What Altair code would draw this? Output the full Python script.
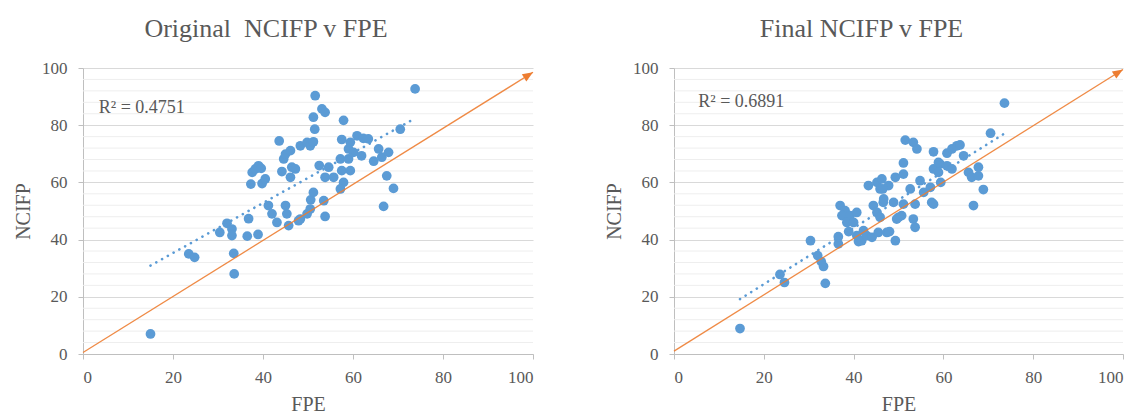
import altair as alt
import pandas as pd

# ---- data ----
orig_fpe = [15.0, 23.5, 24.8, 30.4, 32.0, 33.1, 33.1, 33.5, 33.6, 36.8, 36.5, 38.9,
            37.3, 37.6, 38.3, 39.0, 39.6, 39.8, 40.5, 41.2, 42.0, 43.1, 43.6, 44.2,
            44.6, 45.0, 46.1, 46.1, 46.4, 47.2, 45.0, 45.3, 45.7, 47.9, 48.3, 48.3,
            49.8, 50.5, 51.2, 49.8, 50.5, 50.6, 51.2, 51.6, 51.2, 51.5, 53.1, 53.8,
            52.5, 54.6, 53.5, 53.8, 53.8, 55.7, 57.9, 57.5, 57.2, 59.0, 57.5, 59.4,
            57.9, 57.2, 59.0, 60.1, 61.9, 59.4, 60.9, 62.3, 63.4, 64.6, 65.7, 66.4,
            67.9, 67.5, 69.0, 66.8, 70.5, 73.8]
orig_ncifp = [7.0, 35.0, 33.8, 42.5, 45.7, 43.7, 41.4, 35.2, 28.0, 47.3, 41.2, 41.8,
              59.4, 63.5, 64.7, 65.8, 64.9, 59.6, 61.2, 51.9, 49.0, 46.0, 74.5, 63.8,
              68.2, 69.9, 71.1, 61.8, 65.3, 64.7, 51.9, 49.0, 44.9, 46.6, 47.2, 72.8,
              74.0, 72.8, 74.2, 49.0, 50.7, 53.9, 56.5, 90.3, 82.8, 78.6, 85.7, 84.5,
              65.9, 65.3, 53.6, 48.1, 61.8, 61.8, 81.7, 75.0, 68.2, 68.2, 64.1, 64.1,
              60.0, 57.7, 71.7, 70.5, 69.3, 74.0, 76.3, 75.4, 75.2, 67.4, 71.7, 68.8,
              70.5, 62.3, 57.9, 51.6, 78.6, 92.7]

final_fpe = [14.7, 23.6, 24.6, 30.4, 32.0, 32.8, 33.3, 33.7, 36.6, 36.6, 37.0, 38.1,
             37.4, 39.2, 40.7, 38.5, 40.0, 38.9, 40.7, 41.1, 41.8, 42.2, 42.9, 44.1,
             45.5, 47.4, 49.3, 43.3, 45.2, 46.3, 45.9, 44.4, 45.2, 45.9, 46.6, 46.7,
             47.8, 46.5, 48.0, 49.6, 50.7, 50.0, 53.3, 53.7, 49.3, 51.1, 51.1, 51.5,
             53.3, 54.1, 52.6, 53.7, 51.1, 48.9, 54.8, 55.6, 57.1, 57.4, 57.8, 57.8,
             57.8, 59.3, 60.8, 61.9, 58.9, 58.9, 59.4, 60.8, 61.9, 63.0, 63.7, 64.5,
             65.6, 66.3, 67.8, 67.8, 68.9, 66.7, 70.5, 73.6]
final_ncifp = [8.9, 27.8, 25.0, 39.6, 34.4, 32.3, 30.6, 24.7, 41.0, 38.5, 51.9, 50.1,
               48.4, 48.4, 49.5, 46.0, 46.0, 42.8, 41.4, 39.3, 39.6, 43.1, 41.4, 40.8,
               42.5, 42.5, 39.6, 58.9, 60.0, 61.2, 57.7, 51.9, 49.5, 47.8, 53.0, 54.2,
               58.9, 57.7, 42.8, 47.2, 48.4, 47.8, 47.2, 44.3, 61.8, 62.9, 66.8, 74.8,
               74.0, 71.7, 57.7, 52.4, 52.4, 53.0, 60.6, 56.5, 58.3, 53.0, 52.4, 70.7,
               64.7, 66.4, 65.8, 64.7, 63.5, 67.0, 60.0, 70.2, 71.7, 72.8, 73.1, 69.3,
               63.5, 61.8, 65.3, 62.3, 57.5, 51.9, 77.2, 87.7]

x_ticks = [0, 20, 40, 60, 80, 100]
y_ticks = [0, 20, 40, 60, 80, 100]
minor_ticks = [4, 8, 12, 16, 24, 28, 32, 36, 44, 48, 52, 56, 64, 68, 72, 76, 84, 88, 92, 96]

ref_fpe = [0, 100]
orig_ref = [0.5, 98.5]
final_ref = [1.0, 99.5]

titles = ["Original\u00a0 NCIFP v FPE", "Final NCIFP v FPE"]
title_dx = [-42, -37]
r2_texts = ["R\u00b2 = 0.4751", "R\u00b2 = 0.6891"]
r2_fpe = [3.5, 5.4]
r2_ncifp = [85.9, 88.2]

BLUE = "#5B9BD5"
ORANGE = "#ED7D31"
GRAY = "#595959"
FONT = "Liberation Serif"


def panel(fpe, ncifp, ref_y, title, tdx, r2_text, r2_x, r2_y, width):
    xs = alt.Scale(domain=[0, 100], nice=False, zero=False)
    ys = alt.Scale(domain=[0, 100], nice=False, zero=False)
    X = alt.X("FPE:Q", scale=xs, title="FPE",
              axis=alt.Axis(values=x_ticks, grid=False, tickSize=5, labelPadding=10,
                            titlePadding=9))
    Y = alt.Y("NCIFP:Q", scale=ys, title="NCIFP",
              axis=alt.Axis(values=y_ticks, grid=True, tickSize=5, labelPadding=11,
                            titlePadding=8))
    pts = pd.DataFrame({"FPE": fpe, "NCIFP": ncifp})

    minor = alt.Chart(pd.DataFrame({"NCIFP": minor_ticks})).mark_rule(
        color="#EEEEEE", strokeWidth=1
    ).encode(y=Y)

    points = alt.Chart(pts).mark_circle(size=95, color=BLUE, opacity=1).encode(x=X, y=Y)

    ref = alt.Chart(pd.DataFrame({"FPE": ref_fpe, "NCIFP": ref_y})).mark_line(
        color=ORANGE, strokeWidth=1.3, opacity=0.9
    ).encode(x=X, y=Y)

    arrow = alt.Chart(pd.DataFrame({"FPE": ref_fpe[-1:], "NCIFP": ref_y[-1:]})).mark_point(
        shape="M0,0L-2,-0.8L-2,0.8Z", filled=True, color=ORANGE, size=110,
        angle=328, opacity=1, strokeWidth=0
    ).encode(x=X, y=Y)

    trend = alt.Chart(pts).transform_regression("FPE", "NCIFP").mark_line(
        color=BLUE, strokeWidth=2.6, strokeDash=[0.1, 6.5], strokeCap="round"
    ).encode(x=X, y=Y)

    r2 = alt.Chart(pd.DataFrame({"FPE": [r2_x], "NCIFP": [r2_y], "t": [r2_text]})).mark_text(
        align="left", baseline="middle", font=FONT, fontSize=18, color=GRAY
    ).encode(x=X, y=Y, text="t:N")

    return alt.layer(minor, points, ref, arrow, trend, r2).properties(
        width=width, height=286,
        title=alt.TitleParams(title, font=FONT, fontSize=26, color=GRAY,
                              fontWeight="normal", offset=17, dx=tdx),
    )


left = panel(orig_fpe, orig_ncifp, orig_ref, titles[0], title_dx[0],
             r2_texts[0], r2_fpe[0], r2_ncifp[0], 450)
right = panel(final_fpe, final_ncifp, final_ref, titles[1], title_dx[1],
              r2_texts[1], r2_fpe[1], r2_ncifp[1], 449)

chart = alt.hconcat(left, right, spacing=141, bounds="flush").properties(
    padding={"left": 5, "top": 8, "right": 5, "bottom": 0}
).configure_view(stroke=None).configure_axis(
    domainColor="#BFBFBF", tickColor="#BFBFBF", gridColor="#D9D9D9",
    labelFont=FONT, labelFontSize=17, labelColor=GRAY,
    titleFont=FONT, titleFontSize=20, titleColor=GRAY, titleFontWeight="normal",
).configure_title(anchor="middle")

chart.save("out.html", embed_options={"renderer": "svg", "actions": False})
